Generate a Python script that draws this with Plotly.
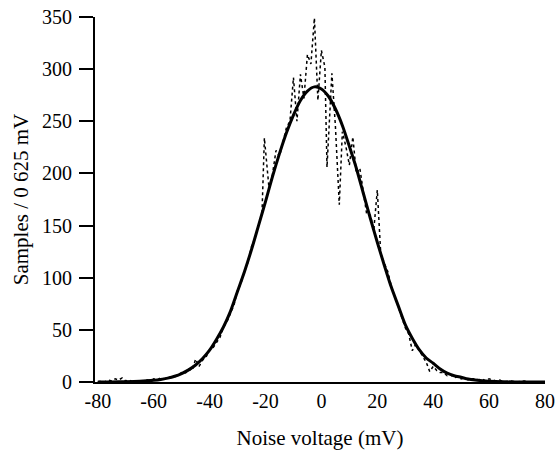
import plotly.graph_objects as go

data_x = [-80, -78.75, -77.5, -76.25, -75, -73.75, -72.5, -71.25, -70, -68.75,
          -67.5, -66.25, -65, -63.75, -62.5, -61.25, -60, -58.75, -57.5, -56.25,
          -55, -53.75, -52.5, -51.25, -50, -48.75, -47.5, -46.25, -45, -43.75,
          -42.5, -41.25, -40, -38.75, -37.5, -36.25, -35, -33.75, -32.5, -31.25,
          -30, -28.75, -27.5, -26.25, -25, -23.75, -22.5, -21.25, -20.4, -18.75,
          -17.5, -16.25, -15, -13.75, -12.5, -11.25, -10, -8.75, -7.5, -6.25,
          -5, -3.75, -2.5, -1.25, 0, 1.25, 2.0, 3.75, 5, 6.4,
          7.5, 8.75, 10, 11.25, 12.5, 13.75, 15, 16.25, 17.5, 18.75,
          20, 21.25, 22.5, 23.75, 25, 26.25, 27.5, 28.75, 30, 31.25,
          32.5, 33.75, 35, 36.25, 37.5, 38.75, 40, 41.25, 42.5, 43.75,
          45, 46.25, 47.5, 48.75, 50, 51.25, 52.5, 53.75, 55, 56.25,
          57.5, 58.75, 60, 61.25, 62.5, 63.75, 65, 67.5, 70, 72.5,
          75, 77.5, 80]
data_y = [0, 1, 0, 2, 1, 3, 2, 4, 1, 2,
          0, 1, 1, 0, 2, 1, 3, 2, 4, 3,
          4, 5, 5, 7, 9, 8, 13, 11, 22, 15,
          21, 24, 31, 33, 38, 43, 53, 58, 66, 74,
          88, 95, 106, 115, 130, 138, 150, 162, 234, 186,
          199, 222, 216, 230, 244, 250, 292, 250, 295, 272,
          314, 305, 349, 270, 318, 302, 206, 296, 246, 170,
          240, 226, 208, 235, 200, 205, 184, 160, 160, 146,
          184, 122, 114, 106, 92, 82, 72, 64, 52, 46,
          30, 36, 30, 24, 19, 10, 15, 11, 9, 9,
          6, 7, 4, 5, 3, 4, 2, 3, 3, 2,
          3, 1, 3, 2, 1, 2, 0, 1, 0, 1,
          0, 0, 0]

# Fitted curve
fit_x = [-80, -75, -70, -65, -60, -57.5, -55, -52.5, -50, -47.5,
         -45, -42.5, -40, -37.5, -35, -32.5, -30, -27.5, -25, -22.5,
         -20, -17.5, -15, -12.5, -10, -7.5, -5, -2.5, 0, 2.5,
         5, 7.5, 10, 12.5, 15, 17.5, 20, 22.5, 25, 27.5,
         30, 32.5, 35, 37.5, 40, 42.5, 45, 47.5, 50, 52.5,
         55, 57.5, 60, 65, 70, 75, 80]
fit_y = [0, 0.1, 0.2, 0.6, 1.6, 2.4, 3.7, 5.5, 8.1, 11.6,
         16.3, 22.5, 30.5, 41, 53, 68, 87, 106, 127, 150,
         173, 197, 219, 239, 256, 270, 279, 283, 281, 274,
         262, 246, 226, 205, 181, 157, 134, 112, 91, 73,
         55, 42, 31, 23, 18, 12.5, 8.5, 6, 4.5, 2.9,
         1.9, 1.2, 0.7, 0.2, 0.05, 0, 0]

y_ticks = [0, 50, 100, 150, 200, 250, 300, 350]
x_ticks = [-80, -60, -40, -20, 0, 20, 40, 60, 80]

FONT = "Liberation Serif, Times New Roman, serif"

fig = go.Figure()
fig.add_trace(go.Scatter(x=data_x, y=data_y, mode="lines",
                         line=dict(color="black", width=1.5, dash="dot"),
                         hoverinfo="skip", showlegend=False))
fig.add_trace(go.Scatter(x=fit_x, y=fit_y, mode="lines",
                         line=dict(color="black", width=3, shape="spline", smoothing=0.8),
                         showlegend=False))

fig.update_layout(
    width=558, height=455,
    margin=dict(l=95, r=13, t=17, b=73),
    paper_bgcolor="white", plot_bgcolor="white",
    font=dict(family=FONT, size=20, color="#000000"),
    xaxis=dict(range=[-81, 80], tickvals=x_ticks, ticktext=[str(v) for v in x_ticks],
               showgrid=False, zeroline=False, showline=True, linecolor="black",
               linewidth=2, ticks="", ticklabelstandoff=0, automargin=False,
               tickfont=dict(size=20),
               title=dict(text="Noise voltage (mV)", standoff=19, font=dict(size=21))),
    yaxis=dict(range=[0, 350], tickvals=y_ticks, ticktext=[str(v) for v in y_ticks],
               showgrid=False, zeroline=False, showline=True, linecolor="black",
               linewidth=2, ticks="outside", ticklen=14, tickwidth=2, tickcolor="black",
               ticklabelstandoff=3, automargin=False, tickfont=dict(size=20),
               title=dict(text="Samples / 0 625 mV", standoff=8, font=dict(size=21))),
)

fig.write_html("out.html")
